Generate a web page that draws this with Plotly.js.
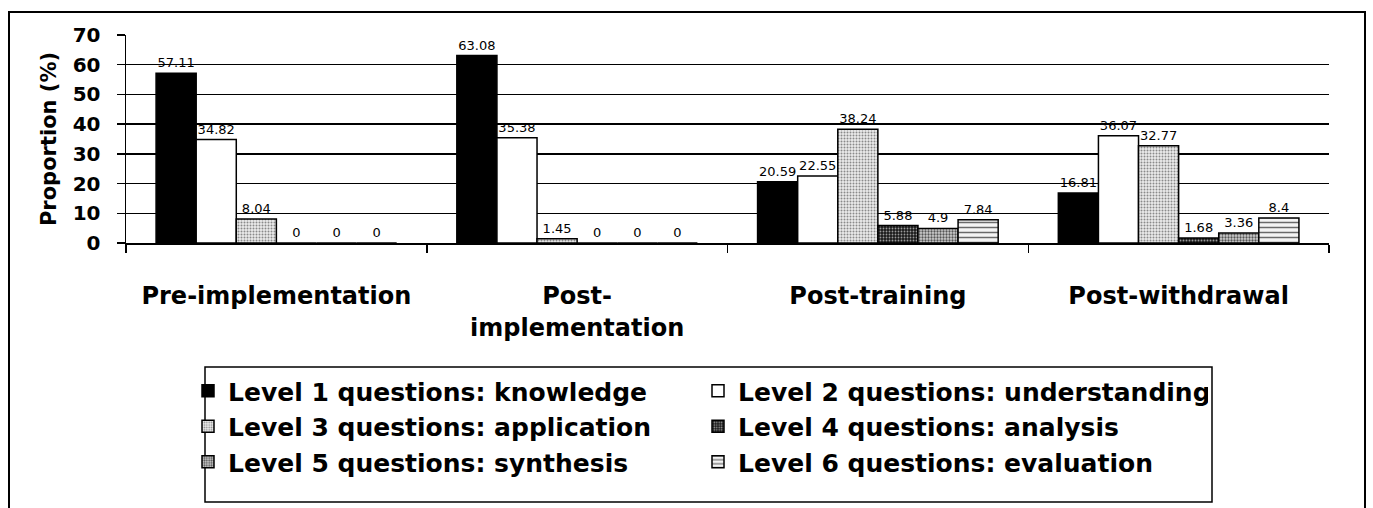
<!DOCTYPE html>
<html>
<head>
<meta charset="utf-8">
<script src="https://cdn.plot.ly/plotly-3.0.1.min.js"></script>
<style>html,body{margin:0;padding:0;background:#fff;}#chart{width:1373px;height:508px;}</style>
</head>
<body>
<div id="chart"></div>
<script>
const categories = ["Pre-implementation", "Post-<br>implementation", "Post-training", "Post-withdrawal"];
const seriesNames = [
  "Level 1 questions: knowledge",
  "Level 2 questions: understanding",
  "Level 3 questions: application",
  "Level 4 questions: analysis",
  "Level 5 questions: synthesis",
  "Level 6 questions: evaluation"
];
const level1 = [57.11, 63.08, 20.59, 16.81];
const level2 = [34.82, 35.38, 22.55, 36.07];
const level3 = [8.04, 1.45, 38.24, 32.77];
const level4 = [0, 0, 5.88, 1.68];
const level5 = [0, 0, 4.9, 3.36];
const level6 = [0, 0, 7.84, 8.4];
const yTicks = [0, 10, 20, 30, 40, 50, 60, 70];

const seriesValues = [level1, level2, level3, level4, level5, level6];
const markers = [
  {color: "#000000"},
  {color: "#ffffff"},
  {color: "#d4d4d4", pattern: {shape: ".", bgcolor: "#ececec", fgcolor: "#8a8a8a", size: 3, solidity: 0.35}},
  {color: "#2a2a2a", pattern: {shape: ".", bgcolor: "#1a1a1a", fgcolor: "#9a9a9a", size: 3, solidity: 0.3}},
  {color: "#aaaaaa", pattern: {shape: ".", bgcolor: "#d0d0d0", fgcolor: "#555555", size: 3, solidity: 0.45}},
  {color: "#eeeeee", pattern: {shape: "-", bgcolor: "#f4f4f4", fgcolor: "#6a6a6a", size: 5, solidity: 0.3}}
];

const traces = seriesValues.map((vals, i) => ({
  type: "bar",
  name: seriesNames[i],
  x: categories,
  y: vals,
  text: vals.map(v => String(v)),
  textposition: "outside",
  textfont: {family: "DejaVu Sans", size: 13, color: "#000"},
  constraintext: "none",
  cliponaxis: false,
  marker: Object.assign({line: {color: "#000", width: 1.5}}, markers[i]),
  hoverinfo: "none"
}));

const W = 1373, H = 508;
const L = 126, R = 44, T = 35, B = 265;
const pw = W - L - R, ph = H - T - B;
const px = x => (x - L) / pw;
const py = y => (H - B - y) / ph;

const layout = {
  width: W, height: H,
  margin: {l: L, r: R, t: T, b: B, pad: 0},
  paper_bgcolor: "#fff",
  plot_bgcolor: "#fff",
  barmode: "group",
  bargap: 0.2,
  bargroupgap: 0,
  showlegend: true,
  font: {family: "DejaVu Sans", color: "#000"},
  xaxis: {
    type: "category",
    showgrid: false,
    showline: true, linecolor: "#000", linewidth: 1.5,
    ticks: "outside", tickson: "boundaries", ticklen: 8, tickwidth: 1.5, tickcolor: "#000",
    ticklabelstandoff: 31,
    tickfont: {family: "DejaVu Sans", size: 24, weight: "bold", color: "#000"}
  },
  yaxis: {
    range: [0, 70],
    tickvals: yTicks,
    showgrid: true, gridcolor: "#000", gridwidth: 1.5,
    showline: true, linecolor: "#000", linewidth: 1.5,
    zeroline: false,
    ticks: "outside", ticklen: 8, tickwidth: 1.5, tickcolor: "#000",
    ticklabelstandoff: 12,
    tickfont: {family: "DejaVu Sans", size: 20, weight: "bold", color: "#000"},
    title: {text: "Proportion (%)", font: {family: "DejaVu Sans", size: 21, weight: "bold", color: "#000"}, standoff: 10}
  },
  legend: {
    orientation: "h",
    x: px(188), xanchor: "left",
    y: py(368), yanchor: "top",
    entrywidth: 465, entrywidthmode: "pixels",
    font: {family: "DejaVu Sans", size: 25, weight: "bold", color: "#000"},
    bgcolor: "rgba(0,0,0,0)",
    borderwidth: 0,
    traceorder: "normal"
  },
  shapes: [
    {type: "rect", xref: "paper", yref: "paper", x0: px(9), x1: px(1365), y0: py(530), y1: py(12), line: {color: "#000", width: 2}, layer: "below"},
    {type: "rect", xref: "paper", yref: "paper", x0: px(205), x1: px(1212), y0: py(502), y1: py(367), line: {color: "#000", width: 1.5}, layer: "below"}
  ]
};

Plotly.newPlot("chart", traces, layout, {displayModeBar: false, staticPlot: true});
</script>
</body>
</html>
